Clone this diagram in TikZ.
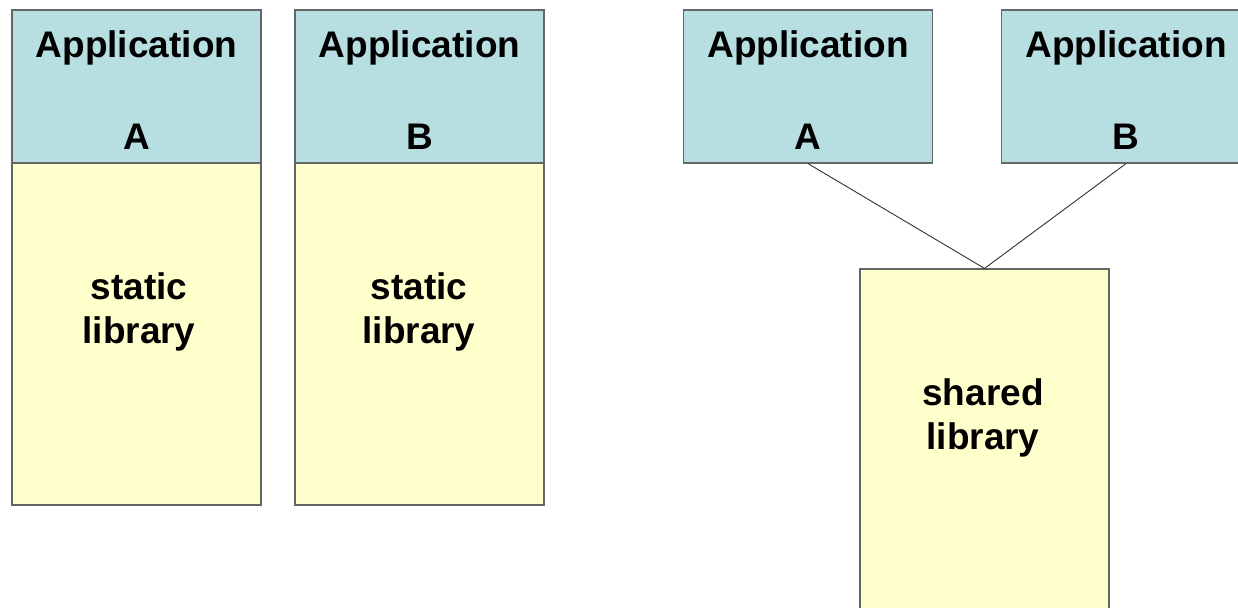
\documentclass[tikz,border=0pt]{standalone}
\usepackage{fontspec}
\setmainfont{Liberation Sans}
\definecolor{appblue}{HTML}{B7DEE1}
\definecolor{libyellow}{HTML}{FFFFCC}
\definecolor{edgegray}{HTML}{666666}
\begin{document}
\begin{tikzpicture}[x=1pt,y=-1pt,
    bigtext/.style={font=\bfseries\fontsize{37}{44}\selectfont,align=center},
    appbox/.style={draw=edgegray,line width=1.2pt,fill=appblue,inner sep=0pt,
      minimum width=249pt,minimum height=153pt,bigtext,text height=125pt},
    libbox/.style={draw=edgegray,line width=1.2pt,fill=libyellow,inner sep=0pt,
      minimum width=249pt}]
  \clip (0,0) rectangle (1238,607);
  \fill[white] (0,0) rectangle (1238,607);
  % static linking
  \node[libbox,minimum height=342pt] (staticA) at (136.5,334) {};
  \node[libbox,minimum height=342pt] (staticB) at (419.5,334) {};
  \node[appbox] (leftA) at (136.5,86.5) {Application\\[48pt]A};
  \node[appbox] (leftB) at (419.5,86.5) {Application\\[48pt]B};
  \node[bigtext] (staticAtext) at (139,312) {static\\library};
  \node[bigtext] (staticBtext) at (419,312) {static\\library};
  % shared linking
  \node[libbox,minimum height=360pt] (shared) at (984.5,449) {};
  \node[bigtext] (sharedtext) at (983,418) {shared\\library};
  \node[appbox] (appA) at (808,86.5) {Application\\[48pt]A};
  \node[appbox] (appB) at (1126,86.5) {Application\\[48pt]B};
  \begin{scope}[draw=black!80,line width=0.9pt]
    \draw (appA.south) to (shared.north);
    \draw (appB.south) to (shared.north);
  \end{scope}
\end{tikzpicture}
\end{document}
